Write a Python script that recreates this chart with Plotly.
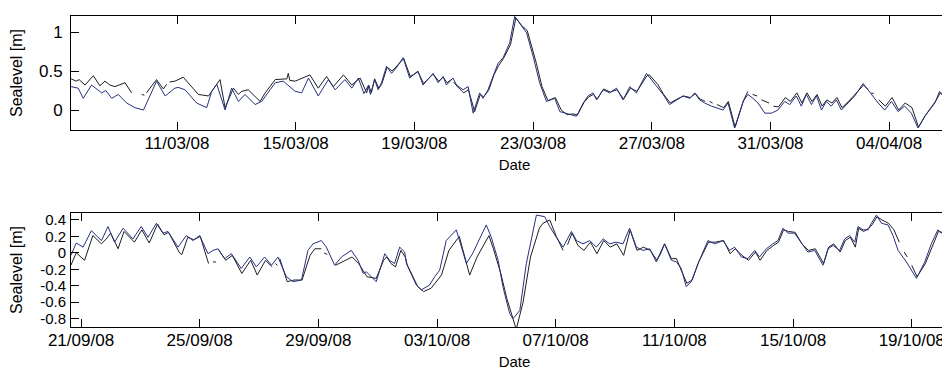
import pandas as pd
import plotly.graph_objects as go

# ---------------- data (days since base date, sea level in m) ----------------
top_base = "2008-03-07"
bot_base = "2008-09-20"

top_blue = [
    (0.43, 0.30), (0.67, 0.28), (0.84, 0.15), (1.12, 0.32), (1.46, 0.22), (1.60, 0.25),
    (1.80, 0.15), (2.02, 0.20), (2.30, 0.09), (2.58, 0.03), (2.87, 0.00), (3.31, 0.37),
    (3.60, 0.18), (3.93, 0.28), (4.04, 0.29), (4.27, 0.26), (4.66, 0.09), (5.00, 0.03),
    (5.17, 0.24), (5.34, 0.33), (5.62, 0.00), (5.84, 0.28), (6.07, 0.11), (6.29, 0.20),
    (6.63, 0.07), (6.85, 0.11), (7.31, 0.35), (7.58, 0.37), (7.98, 0.24), (8.20, 0.22),
    (8.43, 0.41), (8.76, 0.18), (9.10, 0.39), (9.33, 0.26), (9.66, 0.39), (9.89, 0.28),
    (10.11, 0.41), (10.30, 0.21), (10.44, 0.31), (10.52, 0.20), (10.66, 0.39), (10.78, 0.26),
    (10.89, 0.35), (11.06, 0.56), (11.23, 0.47), (11.39, 0.54), (11.62, 0.67), (11.84, 0.41),
    (12.12, 0.50), (12.29, 0.32), (12.63, 0.47), (12.80, 0.35), (12.97, 0.43), (13.08, 0.32),
    (13.30, 0.41), (13.42, 0.32), (13.64, 0.26), (13.81, 0.30), (13.98, -0.04), (14.20, 0.22),
    (14.31, 0.15), (14.48, 0.26), (14.65, 0.43), (14.82, 0.60), (14.99, 0.67), (15.21, 0.86),
    (15.38, 1.20), (15.61, 1.07), (15.78, 0.99), (16.00, 0.69), (16.22, 0.35), (16.45, 0.11),
    (16.73, 0.15), (16.90, -0.02), (17.12, -0.04), (17.29, -0.06), (17.46, -0.08), (17.69, 0.09),
    (17.85, 0.18), (18.02, 0.22), (18.14, 0.13), (18.36, 0.26), (18.58, 0.22), (18.81, 0.28),
    (19.03, 0.13), (19.26, 0.30), (19.48, 0.22), (19.82, 0.47), (20.16, 0.30), (20.38, 0.20),
    (20.60, 0.07), (20.83, 0.13), (21.05, 0.18), (21.28, 0.15), (21.45, 0.22), (21.61, 0.13),
    (21.78, 0.09), (22.01, 0.05), (22.18, 0.03), (22.40, 0.00), (22.57, 0.09), (22.79, -0.23),
    (23.08, 0.11), (23.24, 0.20), (23.41, 0.15), (23.58, 0.09), (23.81, -0.04), (24.03, -0.04),
    (24.25, 0.00), (24.48, 0.11), (24.65, 0.07), (24.87, 0.18), (25.04, 0.05), (25.21, 0.20),
    (25.38, 0.07), (25.55, 0.18), (25.72, 0.00), (25.88, 0.11), (26.05, 0.05), (26.22, 0.13),
    (26.39, 0.00), (26.61, 0.09), (26.84, 0.18), (27.12, 0.34), (27.40, 0.20), (27.63, 0.09),
    (27.85, 0.00), (28.08, 0.11), (28.30, -0.02), (28.52, 0.05), (28.75, -0.04), (28.97, -0.23),
    (29.20, -0.08), (29.37, 0.00), (29.54, 0.09), (29.70, 0.24), (29.87, 0.18), (30.04, 0.11),
    (30.15, 0.18), (30.32, 0.20),
]

top_black = [
    (0.43, 0.40), (0.60, 0.37), (0.70, 0.39), (0.90, 0.32), (1.18, 0.44), (1.40, 0.31),
    (1.57, 0.37), (1.74, 0.32), (1.91, 0.30), (2.25, 0.35), (2.47, 0.22), (2.60, None),
    (2.81, 0.20), (2.90, 0.19), (2.93, None), (2.97, 0.22), (3.31, 0.39), (3.54, 0.27),
    (3.65, 0.33), (3.70, None), (3.75, 0.36), (3.93, 0.37), (4.21, 0.42), (4.72, 0.20),
    (5.06, 0.18), (5.30, 0.30), (5.45, 0.39), (5.62, 0.03), (5.90, 0.28), (6.07, 0.20),
    (6.18, 0.24), (6.40, 0.26), (6.80, 0.11), (6.97, 0.22), (7.31, 0.39), (7.70, 0.40),
    (7.75, 0.47), (7.80, 0.38), (7.98, 0.37), (8.48, 0.45), (8.76, 0.28), (9.04, 0.43),
    (9.27, 0.30), (9.61, 0.45), (9.89, 0.32), (10.17, 0.41), (10.39, 0.22), (10.46, 0.32),
    (10.55, 0.22), (10.66, 0.40), (10.80, 0.28), (10.90, 0.33), (11.08, 0.55), (11.25, 0.50),
    (11.40, 0.56), (11.64, 0.66), (11.86, 0.43), (12.12, 0.49), (12.31, 0.34), (12.63, 0.46),
    (12.82, 0.37), (12.97, 0.42), (13.10, 0.35), (13.28, 0.40), (13.30, None), (13.32, 0.36),
    (13.45, 0.30), (13.66, 0.22), (13.82, 0.26), (14.03, -0.02), (14.22, 0.20), (14.33, 0.17),
    (14.50, 0.25), (14.68, 0.45), (14.84, 0.57), (15.00, 0.66), (15.24, 0.84), (15.42, 1.18),
    (15.62, 1.08), (15.80, 1.02), (16.11, 0.60), (16.30, 0.30), (16.50, 0.12), (16.75, 0.16),
    (16.95, 0.00), (17.15, -0.06), (17.32, -0.05), (17.50, -0.06), (17.72, 0.10), (17.88, 0.17),
    (18.04, 0.20), (18.16, 0.14), (18.38, 0.27), (18.60, 0.23), (18.83, 0.26), (19.05, 0.14),
    (19.28, 0.28), (19.50, 0.24), (19.84, 0.44), (19.92, 0.45), (20.20, 0.33), (20.40, 0.20),
    (20.62, 0.09), (20.85, 0.14), (21.07, 0.18), (21.30, 0.16), (21.47, 0.21), (21.63, 0.14),
    (21.80, 0.11), (21.88, None), (21.95, 0.11), (22.05, 0.09), (22.12, None), (22.20, 0.07),
    (22.42, 0.03), (22.58, 0.11), (22.81, -0.22), (23.10, 0.13), (23.24, 0.24), (23.32, None),
    (23.40, 0.20), (23.55, 0.18), (23.62, None), (23.70, 0.13), (23.95, 0.09), (24.02, None),
    (24.10, 0.05), (24.27, 0.04), (24.50, 0.16), (24.67, 0.11), (24.89, 0.22), (25.06, 0.09),
    (25.23, 0.22), (25.40, 0.11), (25.57, 0.20), (25.74, 0.05), (25.90, 0.13), (26.07, 0.09),
    (26.24, 0.16), (26.41, 0.03), (26.63, 0.11), (26.86, 0.20), (27.14, 0.32), (27.30, 0.26),
    (27.35, None), (27.40, 0.22), (27.48, 0.21), (27.55, None), (27.65, 0.13), (27.87, 0.05),
    (28.10, 0.16), (28.32, 0.00), (28.54, 0.09), (28.77, 0.03), (28.99, -0.22), (29.22, -0.07),
    (29.39, 0.02), (29.56, 0.11), (29.72, 0.22), (29.89, 0.16), (30.06, 0.09), (30.17, 0.20),
    (30.32, 0.16),
]

bot_blue = [
    (0.66, -0.03), (0.84, 0.12), (1.07, 0.07), (1.35, 0.27), (1.57, 0.19), (1.69, 0.15),
    (1.91, 0.32), (2.13, 0.13), (2.42, 0.30), (2.75, 0.17), (3.03, 0.32), (3.26, 0.19),
    (3.54, 0.36), (3.76, 0.24), (3.93, 0.26), (4.27, 0.07), (4.55, 0.21), (4.78, 0.15),
    (5.00, 0.21), (5.28, -0.01), (5.45, 0.03), (5.62, 0.05), (5.84, -0.07), (6.07, -0.01),
    (6.40, -0.19), (6.69, -0.05), (6.91, -0.17), (7.19, -0.05), (7.42, -0.15), (7.64, -0.05),
    (7.92, -0.29), (8.15, -0.35), (8.43, -0.33), (8.65, 0.03), (8.82, 0.11), (9.10, 0.15),
    (9.27, 0.07), (9.55, -0.15), (9.78, -0.05), (10.11, 0.03), (10.34, -0.09), (10.51, -0.25),
    (10.62, -0.23), (10.95, -0.35), (11.24, -0.01), (11.40, -0.09), (11.57, -0.13), (11.74, 0.07),
    (11.91, 0.01), (11.97, -0.13), (12.30, -0.39), (12.47, -0.45), (12.75, -0.39), (12.92, -0.29),
    (13.09, -0.21), (13.31, 0.15), (13.65, 0.28), (13.99, -0.13), (14.21, 0.00), (14.66, 0.34),
    (14.83, 0.19), (15.06, -0.09), (15.22, -0.41), (15.45, -0.74), (15.56, -0.80), (15.79, -0.70),
    (16.01, -0.13), (16.24, 0.28), (16.35, 0.46), (16.63, 0.44), (16.80, 0.32), (17.02, 0.19),
    (17.25, 0.07), (17.53, 0.26), (17.70, 0.15), (17.92, 0.11), (18.15, 0.15), (18.37, 0.07),
    (18.60, 0.17), (18.82, 0.11), (19.04, 0.13), (19.27, 0.11), (19.49, 0.30), (19.72, 0.07),
    (19.94, 0.03), (20.17, 0.05), (20.39, -0.11), (20.55, 0.00), (20.67, 0.11), (20.90, -0.09),
    (21.07, -0.11), (21.23, -0.19), (21.40, -0.41), (21.57, -0.35), (21.80, -0.13), (22.13, 0.15),
    (22.36, 0.11), (22.64, 0.15), (22.86, 0.03), (23.03, 0.07), (23.26, -0.05), (23.48, -0.07),
    (23.71, 0.03), (23.87, -0.05), (24.10, 0.05), (24.32, 0.11), (24.49, 0.15), (24.66, 0.30),
    (24.83, 0.24), (25.05, 0.24), (25.28, 0.13), (25.50, 0.01), (25.73, 0.03), (26.01, -0.15),
    (26.18, 0.05), (26.35, 0.09), (26.57, 0.03), (26.74, 0.17), (26.91, 0.21), (27.08, 0.13),
    (27.19, 0.32), (27.36, 0.28), (27.53, 0.28), (27.64, 0.36), (27.81, 0.46), (27.98, 0.36),
    (28.20, 0.34), (28.37, 0.21), (28.54, 0.03), (28.82, -0.11), (29.16, -0.31), (29.44, -0.11),
    (29.66, 0.11), (29.88, 0.28), (30.11, 0.21), (30.33, 0.03), (30.56, -0.01),
]

bot_black = [
    (0.66, -0.15), (0.84, 0.00), (1.12, -0.09), (1.40, 0.21), (1.69, 0.11), (1.85, 0.17),
    (2.00, 0.24), (2.25, 0.05), (2.45, 0.26), (2.80, 0.13), (3.05, 0.28), (3.30, 0.12),
    (3.58, 0.35), (3.80, 0.22), (3.95, 0.25), (4.32, 0.00), (4.40, -0.02), (4.60, 0.19),
    (4.80, 0.16), (5.02, 0.20), (5.30, -0.13), (5.38, None), (5.45, -0.11), (5.55, -0.11),
    (5.60, None), (5.65, 0.03), (5.88, -0.09), (6.10, -0.03), (6.42, -0.25), (6.72, -0.09),
    (6.94, -0.27), (7.22, -0.09), (7.44, -0.17), (7.50, None), (7.55, -0.13), (7.62, -0.15),
    (7.66, None), (7.70, -0.07), (7.95, -0.35), (8.18, -0.33), (8.45, -0.33), (8.72, -0.03),
    (8.88, 0.05), (9.10, 0.05), (9.15, None), (9.20, 0.00), (9.30, -0.02), (9.38, None),
    (9.58, -0.15), (9.80, -0.11), (10.14, -0.05), (10.36, -0.13), (10.64, -0.29), (10.95, -0.31),
    (11.20, -0.09), (11.30, -0.05), (11.45, -0.13), (11.60, -0.17), (11.78, 0.03), (11.93, -0.05),
    (12.00, -0.15), (12.35, -0.41), (12.55, -0.47), (12.80, -0.43), (12.97, -0.35), (13.15, -0.27),
    (13.40, 0.03), (13.75, 0.20), (14.10, -0.27), (14.35, -0.05), (14.75, 0.21), (14.90, 0.05),
    (15.15, -0.25), (15.35, -0.55), (15.67, -0.93), (15.90, -0.60), (16.15, -0.05), (16.45, 0.30),
    (16.57, 0.36), (16.80, 0.40), (17.02, 0.20), (17.25, 0.03), (17.32, None), (17.40, 0.10),
    (17.55, 0.24), (17.75, 0.09), (17.95, 0.03), (18.17, 0.13), (18.39, -0.01), (18.62, 0.15),
    (18.84, 0.07), (19.06, 0.11), (19.29, -0.03), (19.51, 0.28), (19.74, 0.03), (19.96, 0.07),
    (20.19, 0.03), (20.41, -0.09), (20.55, 0.02), (20.67, 0.11), (20.90, -0.07), (21.07, -0.07),
    (21.23, -0.21), (21.42, -0.37), (21.60, -0.33), (21.82, -0.11), (22.15, 0.13), (22.38, 0.13),
    (22.66, 0.15), (22.88, -0.01), (23.05, 0.05), (23.28, -0.03), (23.50, -0.09), (23.73, 0.01),
    (23.89, -0.09), (24.12, 0.03), (24.34, 0.09), (24.51, 0.13), (24.68, 0.28), (24.85, 0.26),
    (25.07, 0.25), (25.30, 0.11), (25.52, 0.03), (25.75, 0.05), (26.03, -0.13), (26.20, 0.07),
    (26.37, 0.11), (26.59, 0.01), (26.76, 0.15), (26.93, 0.19), (27.10, 0.07), (27.21, 0.30),
    (27.38, 0.26), (27.55, 0.30), (27.66, 0.34), (27.83, 0.44), (28.00, 0.40), (28.22, 0.36),
    (28.40, 0.28), (28.58, 0.13), (28.66, None), (28.75, 0.01), (28.85, -0.05), (28.92, None),
    (29.00, -0.15), (29.18, -0.29), (29.46, -0.13), (29.68, 0.07), (29.90, 0.26), (30.13, 0.24),
    (30.35, 0.09), (30.56, 0.05),
]

top_tick_dates = ["2008-03-11", "2008-03-15", "2008-03-19", "2008-03-23", "2008-03-27", "2008-03-31", "2008-04-04"]
top_tick_labels = ["11/03/08", "15/03/08", "19/03/08", "23/03/08", "27/03/08", "31/03/08", "04/04/08"]
bot_tick_dates = ["2008-09-21", "2008-09-25", "2008-09-29", "2008-10-03", "2008-10-07", "2008-10-11", "2008-10-15", "2008-10-19"]
bot_tick_labels = ["21/09/08", "25/09/08", "29/09/08", "03/10/08", "07/10/08", "11/10/08", "15/10/08", "19/10/08"]
top_y_ticks = [0, 0.5, 1]
top_y_labels = ["0", "0.5", "1"]
bot_y_ticks = [-0.8, -0.6, -0.4, -0.2, 0, 0.2, 0.4]
bot_y_labels = ["-0.8", "-0.6", "-0.4", "-0.2", "0", "0.2", "0.4"]

top_xrange_days = [0.427, 30.32]
bot_xrange_days = [0.663, 30.56]
top_yrange = [-0.256, 1.205]
bot_yrange = [-0.901, 0.485]


def to_xy(base, pairs):
    b = pd.Timestamp(base)
    xs = [b + pd.to_timedelta(d, unit="D") for d, _ in pairs]
    ys = [v for _, v in pairs]
    return xs, ys


def drange(base, days):
    b = pd.Timestamp(base)
    return [b + pd.to_timedelta(d, unit="D") for d in days]


BLUE = "#27307f"
BLACK = "#1e1e1e"
FONT = "Liberation Sans, Arial, sans-serif"

fig = go.Figure()
for base, pairs, color, xa, ya in [
    (top_base, top_black, BLACK, "x", "y"),
    (top_base, top_blue, BLUE, "x", "y"),
    (bot_base, bot_black, BLACK, "x2", "y2"),
    (bot_base, bot_blue, BLUE, "x2", "y2"),
]:
    xs, ys = to_xy(base, pairs)
    fig.add_trace(go.Scatter(x=xs, y=ys, mode="lines", line=dict(color=color, width=1),
                             xaxis=xa, yaxis=ya, showlegend=False, connectgaps=False))

axis_common = dict(showline=True, linecolor="black", linewidth=1, mirror="ticks",
                   ticks="inside", ticklen=8, tickcolor="black", tickwidth=1,
                   showgrid=False, zeroline=False,
                   tickfont=dict(family=FONT, size=17, color="black"))

fig.update_layout(
    width=950, height=373,
    margin=dict(l=63, r=0, t=8, b=54),
    paper_bgcolor="white", plot_bgcolor="white",
    font=dict(family=FONT, size=16, color="black"),
    xaxis=dict(axis_common, domain=[0, 1], anchor="y",
               range=drange(top_base, top_xrange_days),
               tickvals=pd.to_datetime(top_tick_dates), ticktext=top_tick_labels,
               ticklabelstandoff=-2,
               title=dict(text="Date", standoff=7, font=dict(family=FONT, size=15))),
    yaxis=dict(axis_common, domain=[0.6334, 1], anchor="x", range=top_yrange,
               tickvals=top_y_ticks, ticktext=top_y_labels, ticklabelstandoff=4,
               title=dict(text="Sealevel [m]", standoff=14, font=dict(family=FONT, size=16))),
    xaxis2=dict(axis_common, domain=[0, 1], anchor="y2",
                range=drange(bot_base, bot_xrange_days),
                tickvals=pd.to_datetime(bot_tick_dates), ticktext=bot_tick_labels,
                ticklabelstandoff=-2,
                title=dict(text="Date", standoff=7, font=dict(family=FONT, size=15))),
    yaxis2=dict(axis_common, domain=[0, 0.3666], anchor="x2", range=bot_yrange,
                tickvals=bot_y_ticks, ticktext=bot_y_labels, ticklabelstandoff=1,
                tickfont=dict(family=FONT, size=15, color="black"),
                title=dict(text="Sealevel [m]", standoff=19, font=dict(family=FONT, size=16))),
)

fig.write_html("out.html")
